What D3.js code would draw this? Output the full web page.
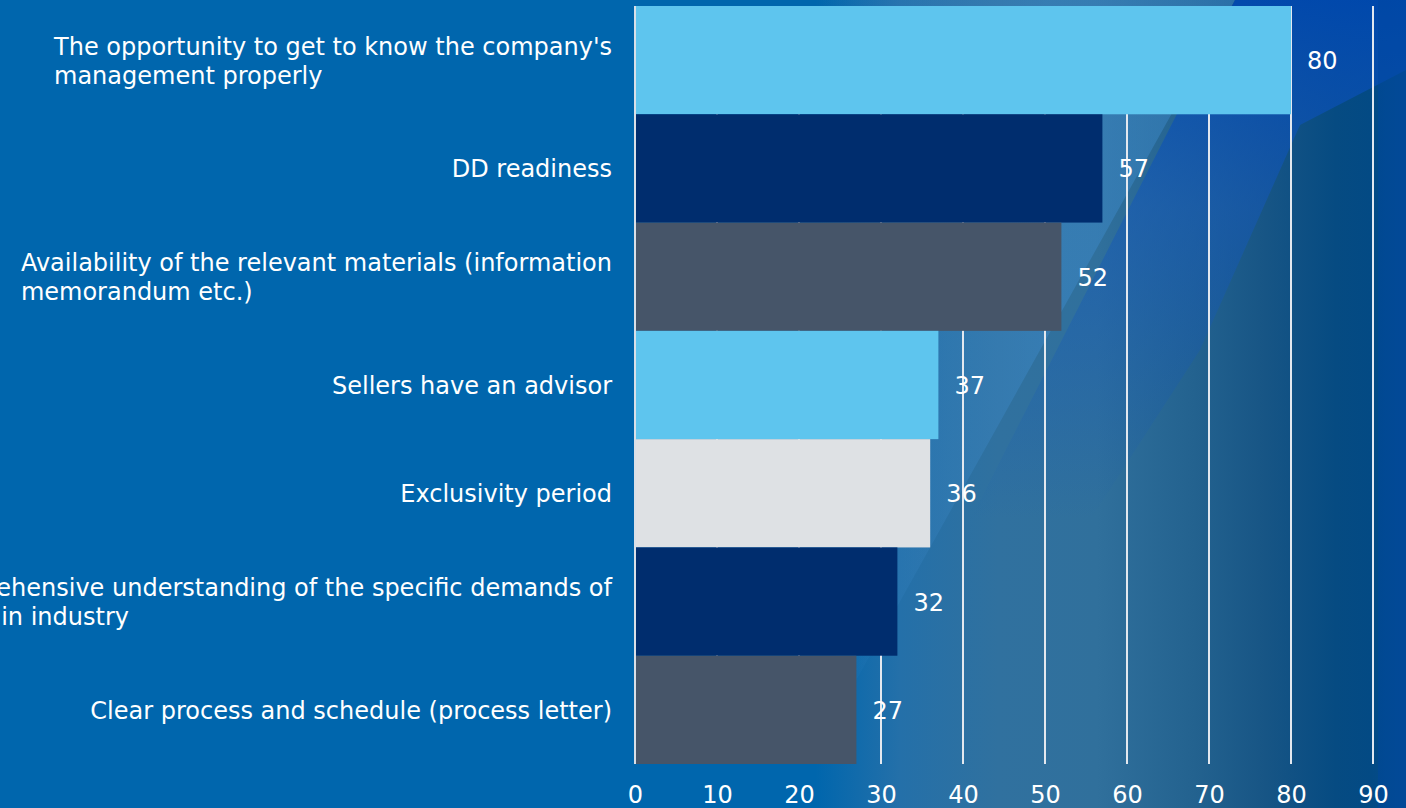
<!DOCTYPE html>
<html>
<head>
<meta charset="utf-8">
<script src="https://cdn.jsdelivr.net/npm/d3@7"></script>
<style>
  html, body { margin: 0; padding: 0; background: #0066AD; overflow: hidden; }
  svg { display: block; }
  text { font-family: 'DejaVu Sans', Verdana, sans-serif; fill: #FFFFFF; }
</style>
</head>
<body>
<svg id="chart" width="1406" height="808"></svg>
<script>
// ---- data ----
const categories = [
  "The opportunity to get to know the company's\nmanagement properly",
  "DD readiness",
  "Availability of the relevant materials (information\nmemorandum etc.)",
  "Sellers have an advisor",
  "Exclusivity period",
  "Comprehensive understanding of the specific demands of\na certain industry",
  "Clear process and schedule (process letter)"
];
const values = [80, 57, 52, 37, 36, 32, 27];
const barColors = ["#5EC5EE", "#002D6E", "#465569", "#5EC5EE", "#DEE1E4", "#002D6E", "#465569"];
const tickValues = [0, 10, 20, 30, 40, 50, 60, 70, 80, 90];

// ---- layout ----
const W = 1406, H = 808;
const svg = d3.select("#chart");
const defs = svg.append("defs");

// background gradient
const bg = defs.append("linearGradient").attr("id", "bgGrad").attr("x1", 0).attr("x2", 1).attr("y1", 0).attr("y2", 0);
[[0, "#0066AD"], [0.58, "#0066AD"], [0.64, "#2470A9"], [0.71, "#30719F"], [0.78, "#30709C"],
 [0.85, "#23628F"], [0.9, "#175585"], [0.95, "#064B82"], [0.975, "#034A84"], [1, "#044C92"]].forEach(([o, c]) =>
  bg.append("stop").attr("offset", o).attr("stop-color", c));
svg.append("rect").attr("width", W).attr("height", H).attr("fill", "url(#bgGrad)");

// lighter diagonal band
const lg = defs.append("linearGradient").attr("id", "lightGrad").attr("gradientUnits", "userSpaceOnUse")
  .attr("x1", 820).attr("x2", 1050).attr("y1", 0).attr("y2", 0);
lg.append("stop").attr("offset", 0).attr("stop-color", "#3F8DD0").attr("stop-opacity", 0);
lg.append("stop").attr("offset", 1).attr("stop-color", "#3F8DD0").attr("stop-opacity", 0.42);
svg.append("path").attr("d", "M820,0 L1235,0 L785,808 L820,808 Z").attr("fill", "url(#lightGrad)");

// bluish diagonal band upper right
const bl = defs.append("linearGradient").attr("id", "blueGrad").attr("gradientUnits", "userSpaceOnUse")
  .attr("x1", 0).attr("x2", 0).attr("y1", 0).attr("y2", 520);
bl.append("stop").attr("offset", 0).attr("stop-color", "#0048B0").attr("stop-opacity", 0.9);
bl.append("stop").attr("offset", 0.4).attr("stop-color", "#1558B8").attr("stop-opacity", 0.55);
bl.append("stop").attr("offset", 1).attr("stop-color", "#1558B8").attr("stop-opacity", 0);
svg.append("path").attr("d", "M1235,0 L1406,0 L1406,70 L1300,125 L1200,350 L1090,520 L960,540 Z").attr("fill", "url(#blueGrad)");

// right edge bluish strip
svg.append("rect").attr("x", 1378).attr("y", 0).attr("width", 28).attr("height", H)
  .attr("fill", "#0048A0").attr("opacity", 0.45);

// scales
const x = d3.scaleLinear().domain([0, 90]).range([635, 1373]);
const y = d3.scaleBand().domain(categories).range([6, 764]).padding(0);

// gridlines
svg.append("g").selectAll("line").data(tickValues).join("line")
  .attr("x1", d => x(d)).attr("x2", d => x(d))
  .attr("y1", 6).attr("y2", 764)
  .attr("stroke", "#E3E8EF").attr("stroke-width", 2);

// bars
svg.append("g").selectAll("rect").data(values).join("rect")
  .attr("x", x(0) + 1)
  .attr("y", (d, i) => y(categories[i]))
  .attr("width", d => x(d) - x(0) - 1)
  .attr("height", y.bandwidth())
  .attr("fill", (d, i) => barColors[i]);

// left axis line
svg.append("line").attr("x1", x(0)).attr("x2", x(0)).attr("y1", 6).attr("y2", 764)
  .attr("stroke", "#D6DCE4").attr("stroke-width", 1.5);

const FS = 24;
// value labels
svg.append("g").selectAll("text").data(values).join("text")
  .attr("x", d => x(d) + 16)
  .attr("y", (d, i) => y(categories[i]) + y.bandwidth() / 2 + 9)
  .attr("font-size", FS)
  .text(d => d);

// category labels
const catG = svg.append("g");
categories.forEach((c, i) => {
  const lines = c.split("\n");
  const cy = y(c) + y.bandwidth() / 2;
  const t = catG.append("text").attr("font-size", FS);
  lines.forEach((ln, j) => {
    t.append("tspan").attr("y", cy + 9 + (j - (lines.length - 1) / 2) * 29).text(ln);
  });
  let maxW = 0;
  t.selectAll("tspan").each(function () { maxW = Math.max(maxW, this.getComputedTextLength()); });
  t.selectAll("tspan").attr("x", 612 - maxW);
});

// x axis tick labels
const axis = d3.axisBottom(x).tickValues(tickValues).tickSize(0).tickPadding(0);
const ag = svg.append("g").attr("transform", "translate(0,786)").call(axis);
ag.select(".domain").remove();
ag.selectAll("text").attr("font-size", FS).attr("fill", "#FFFFFF")
  .attr("font-family", "'DejaVu Sans', Verdana, sans-serif")
  .attr("dy", "0.72em").attr("y", 0);
</script>
</body>
</html>
